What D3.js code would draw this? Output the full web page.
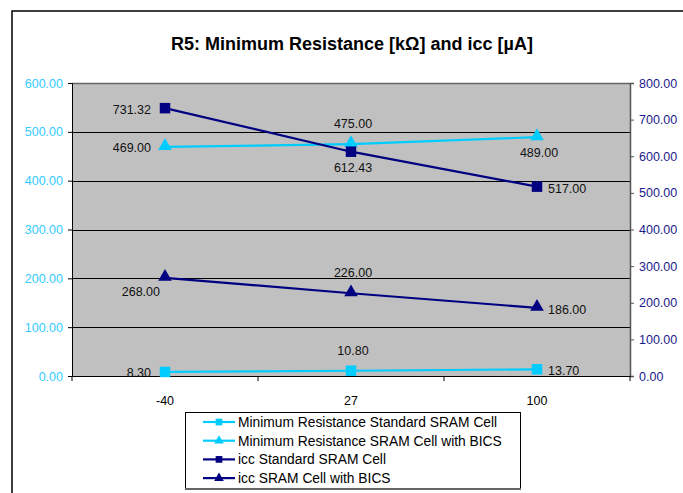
<!DOCTYPE html>
<html><head><meta charset="utf-8">
<script src="https://cdn.jsdelivr.net/npm/d3@7"></script>
<style>
html,body{margin:0;padding:0;background:#fff;}
svg{display:block;font-family:"Liberation Sans",Arial,sans-serif;}
</style></head>
<body>
<svg id="c" width="683" height="493"></svg>
<script>
const categories = ["-40", "27", "100"];
const minResStd = [8.30, 10.80, 13.70];
const minResBics = [469.00, 475.00, 489.00];
const iccStd = [731.32, 612.43, 517.00];
const iccBics = [268.00, 226.00, 186.00];
const leftTicks = [0, 100, 200, 300, 400, 500, 600];
const rightTicks = [0, 100, 200, 300, 400, 500, 600, 700, 800];
const titleText = "R5: Minimum Resistance [kΩ] and icc [µA]";
const seriesNames = ["Minimum Resistance Standard SRAM Cell", "Minimum Resistance SRAM Cell with BICS", "icc Standard SRAM Cell", "icc SRAM Cell with BICS"];
const labelPlacement = [
  ["left", "above", "right"],
  ["left", "above", "below"],
  ["left", "below", "right"],
  ["belowleft", "above", "right"]
];

const svg = d3.select("#c");
const cyan = "#00CCFF", navy = "#000080";
const plot = {l: 72, r: 630, t: 83, b: 376};

// chart border
svg.append("rect").attr("x", 12).attr("y", 11).attr("width", 700).attr("height", 520)
  .attr("fill", "#fff").attr("stroke", "#000").attr("stroke-width", 1.5);

svg.append("text").attr("x", 352).attr("y", 50).attr("text-anchor", "middle")
  .attr("font-size", 18).attr("font-weight", "bold").text(titleText);

const x = d3.scaleBand().domain(categories).range([plot.l, plot.r]);
const yL = d3.scaleLinear().domain([0, 600]).range([plot.b, plot.t]);
const yR = d3.scaleLinear().domain([0, 800]).range([plot.b, plot.t]);

svg.append("rect").attr("x", plot.l).attr("y", plot.t).attr("width", plot.r - plot.l).attr("height", plot.b - plot.t)
  .attr("fill", "#C0C0C0");

// gridlines
svg.append("g").selectAll("line").data(leftTicks.filter(d => d > 0 && d < 600)).join("line")
  .attr("x1", plot.l).attr("x2", plot.r).attr("y1", d => Math.round(yL(d)) + 0.5).attr("y2", d => Math.round(yL(d)) + 0.5)
  .attr("stroke", "#000").attr("stroke-width", 1);
svg.append("line").attr("x1", plot.l).attr("x2", plot.r).attr("y1", plot.t + 0.5).attr("y2", plot.t + 0.5)
  .attr("stroke", "#666").attr("stroke-width", 1.5);

// left axis
const gL = svg.append("g").attr("transform", `translate(${plot.l},0)`)
  .call(d3.axisLeft(yL).tickValues(leftTicks).tickFormat(d3.format(".2f")).tickSize(4).tickPadding(5));
gL.select(".domain").attr("stroke", "#000");
gL.selectAll(".tick line").attr("stroke", "#000");
gL.selectAll("text").attr("fill", "#33CCFF").attr("font-size", 12.5).attr("font-family", "Liberation Sans, Arial, sans-serif");

// right axis
const gR = svg.append("g").attr("transform", `translate(${plot.r},0)`)
  .call(d3.axisRight(yR).tickValues(rightTicks).tickFormat(d3.format(".2f")).tickSize(4).tickPadding(5));
gR.select(".domain").attr("stroke", "#555").attr("stroke-width", 1.5);
gR.selectAll(".tick line").attr("stroke", "#555");
gR.selectAll("text").attr("fill", "#1a1a8c").attr("font-size", 12.5).attr("font-family", "Liberation Sans, Arial, sans-serif");

// bottom axis
const gB = svg.append("g").attr("transform", `translate(0,${plot.b})`)
  .call(d3.axisBottom(x).tickSize(0).tickPadding(20));
gB.select(".domain").attr("stroke", "#000").attr("stroke-width", 1.2);
gB.selectAll("text").attr("fill", "#000").attr("font-size", 12.5).attr("font-family", "Liberation Sans, Arial, sans-serif");
const boundaries = categories.map(c => x(c)).concat([plot.r]);
svg.append("g").selectAll("line").data(boundaries).join("line")
  .attr("x1", d => d).attr("x2", d => d).attr("y1", plot.b).attr("y2", plot.b + 5).attr("stroke", "#000");

const series = [
  {vals: minResStd, y: yL, color: cyan, marker: "square"},
  {vals: minResBics, y: yL, color: cyan, marker: "triangle"},
  {vals: iccStd, y: yR, color: navy, marker: "square"},
  {vals: iccBics, y: yR, color: navy, marker: "triangle"}
];
const cx = c => x(c) + x.bandwidth() / 2;

series.forEach((s, si) => {
  const pts = s.vals.map((v, i) => [cx(categories[i]), s.y(v)]);
  svg.append("path").attr("d", d3.line()(pts)).attr("fill", "none").attr("stroke", s.color).attr("stroke-width", 2.2);
  const sym = d3.symbol().type(s.marker === "square" ? d3.symbolSquare : d3.symbolTriangle).size(s.marker === "square" ? 110 : 80);
  svg.append("g").selectAll("path").data(pts).join("path")
    .attr("transform", d => `translate(${d[0]},${d[1] - (s.marker === "triangle" ? 1 : 0)})`)
    .attr("d", sym()).attr("fill", s.color);
  s.vals.forEach((v, i) => {
    const [px, py] = pts[i];
    const pos = labelPlacement[si][i];
    let tx = px, ty = py, anchor = "middle";
    if (pos === "left") { tx = px - 14; ty = py + 5.5; anchor = "end"; }
    else if (pos === "right") { tx = px + 11; ty = py + 6; anchor = "start"; }
    else if (pos === "above") { tx = px + 2; ty = py - 16; }
    else if (pos === "below") { tx = px + 2; ty = py + 20; }
    else if (pos === "belowleft") { tx = px - 5; ty = py + 18; anchor = "end"; }
    svg.append("text").attr("x", tx).attr("y", ty).attr("text-anchor", anchor)
      .attr("font-size", 12.5).attr("fill", "#111").text(d3.format(".2f")(v));
  });
});

// legend
svg.append("rect").attr("x", 185.5).attr("y", 412.5).attr("width", 335).attr("height", 76)
  .attr("fill", "#fff").attr("stroke", "#000").attr("stroke-width", 1);
svg.append("line").attr("x1", 185).attr("x2", 521).attr("y1", 489).attr("y2", 489).attr("stroke", "#666").attr("stroke-width", 2);
series.forEach((s, i) => {
  const ly = 422 + i * 18.7;
  svg.append("line").attr("x1", 203).attr("x2", 235).attr("y1", ly).attr("y2", ly).attr("stroke", s.color).attr("stroke-width", 2.2);
  const sym = d3.symbol().type(s.marker === "square" ? d3.symbolSquare : d3.symbolTriangle).size(s.marker === "square" ? 45 : 40);
  svg.append("path").attr("transform", `translate(219,${ly})`).attr("d", sym()).attr("fill", s.color);
  svg.append("text").attr("x", 238).attr("y", ly + 5).attr("font-size", 13.8).attr("fill", "#000").text(seriesNames[i]);
});
</script>
</body></html>
